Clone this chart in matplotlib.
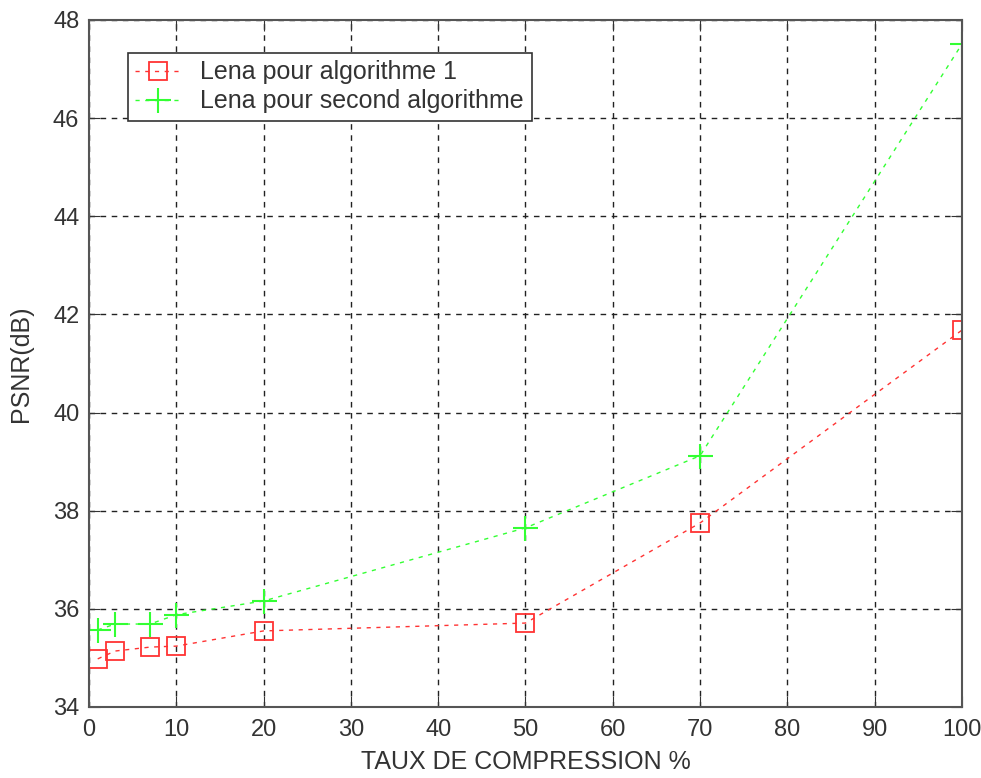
import matplotlib.pyplot as plt

compression = [1, 3, 7, 10, 20, 50, 70, 100]
psnr_algo1 = [34.98, 35.14, 35.22, 35.24, 35.55, 35.71, 37.75, 41.68]
psnr_algo2 = [35.57, 35.69, 35.69, 35.88, 36.16, 37.65, 39.12, 47.51]

x_ticks = list(range(0, 101, 10))
y_ticks = list(range(34, 49, 2))

plt.rcParams["font.family"] = ["Liberation Sans", "DejaVu Sans"]

fig = plt.figure(figsize=(9.81, 7.78), dpi=100)
ax = fig.add_axes([0.0907, 0.0913, 0.8899, 0.883])

ax.plot(compression, psnr_algo1, color="#ff3333", linestyle=(0, (3, 4)), linewidth=1,
        marker="s", markersize=13, markerfacecolor="none", markeredgecolor="#ff3333",
        markeredgewidth=1.3, label="Lena pour algorithme 1")
ax.plot(compression, psnr_algo2, color="#33ff33", linestyle=(0, (3, 4)), linewidth=1,
        marker="+", markersize=18, markeredgewidth=1.5,
        label="Lena pour second algorithme")

ax.set_xlim(0, 100)
ax.set_ylim(34, 48)
ax.set_xticks(x_ticks)
ax.set_yticks(y_ticks)
ax.grid(True, color="#222222", linestyle=(0, (4, 4)), linewidth=1)
ax.tick_params(direction="in", length=8, top=True, right=True, labelsize=17,
               colors="#333333")
ax.tick_params(axis="x", pad=9)
ax.tick_params(axis="y", pad=7)
for s in ax.spines.values():
    s.set_color("#555555")
    s.set_linewidth(1.5)

ax.set_xlabel("TAUX DE COMPRESSION %", fontsize=18, color="#333333", labelpad=6)
ax.set_ylabel("PSNR(dB)", fontsize=18, color="#333333", labelpad=14)

leg = ax.legend(loc="upper left", bbox_to_anchor=(0.0447, 0.952), fontsize=18,
                fancybox=False, framealpha=1, edgecolor="#333333",
                handlelength=1.8, borderpad=0.3, labelspacing=0.2,
                borderaxespad=0)
leg.get_frame().set_linewidth(1.2)
for t in leg.get_texts():
    t.set_color("#333333")

fig.savefig("out.png", dpi=100)
